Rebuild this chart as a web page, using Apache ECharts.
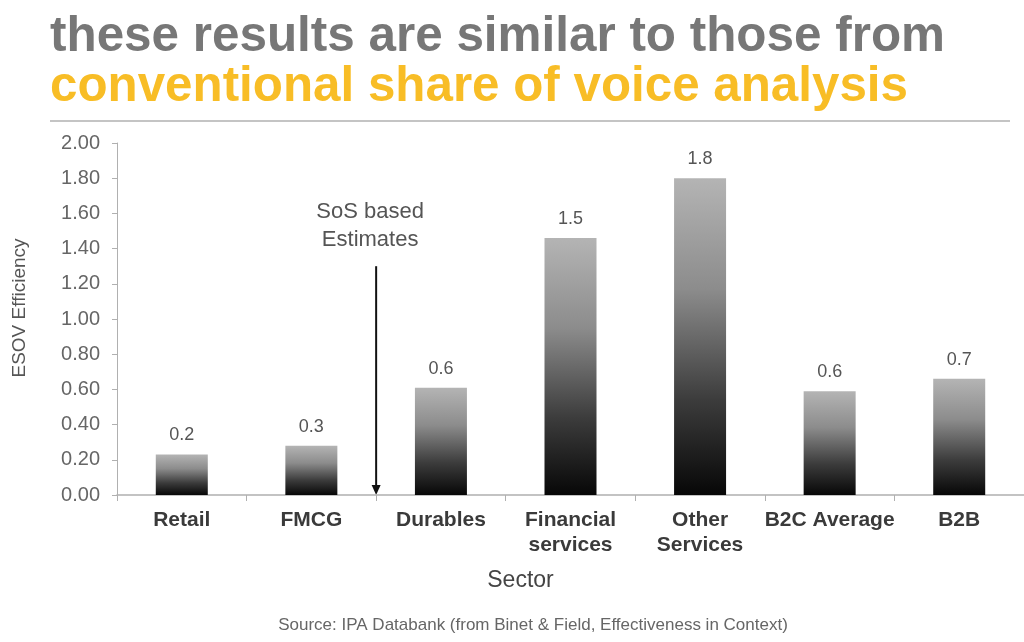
<!DOCTYPE html>
<html>
<head>
<meta charset="utf-8">
<script src="https://cdn.jsdelivr.net/npm/echarts@6/dist/echarts.min.js"></script>
<style>
html,body{margin:0;padding:0;background:#fff;}
#chart{width:1024px;height:642px;}
</style>
</head>
<body>
<div id="chart"></div>
<script>
// ---- data ----
const categories = ['Retail', 'FMCG', 'Durables', 'Financial\nservices', 'Other\nServices', 'B2C Average', 'B2B'];
const efficiency = [0.23, 0.28, 0.61, 1.46, 1.80, 0.59, 0.66];
const yTicks = { min: 0, max: 2, interval: 0.2 };
const titleLine1 = 'these results are similar to those from';
const titleLine2 = 'conventional share of voice analysis';
const annotationText = 'SoS based\nEstimates';
const sourceText = 'Source: IPA Databank (from Binet & Field, Effectiveness in Context)';
const xName = 'Sector';
const yName = 'ESOV Efficiency';

const FONT = '"Liberation Sans", Arial, Helvetica, sans-serif';

function measure(text, font) {
  const c = document.createElement('canvas').getContext('2d');
  c.font = font;
  return c.measureText(text).width;
}

const chart = echarts.init(document.getElementById('chart'));

const option = {
  backgroundColor: '#ffffff',
  animation: false,
  grid: { left: 117, right: -7, top: 143, bottom: 147, containLabel: false },
  xAxis: {
    type: 'category',
    data: categories,
    name: xName,
    nameLocation: 'middle',
    nameGap: 74,
    nameTextStyle: { fontFamily: FONT, fontSize: 23, color: '#444', padding: [0, 100, 0, 0] },
    axisLine: { lineStyle: { color: '#b0b0b0', width: 1.5 } },
    axisTick: { show: true, length: 6, lineStyle: { color: '#b0b0b0' } },
    axisLabel: { fontFamily: FONT, fontWeight: 'bold', fontSize: 21, color: '#3a3a3a', margin: 13, lineHeight: 25, interval: 0 }
  },
  yAxis: {
    type: 'value',
    min: yTicks.min, max: yTicks.max, interval: yTicks.interval,
    name: yName,
    nameLocation: 'middle',
    nameGap: 88,
    nameRotate: 90,
    nameTextStyle: { fontFamily: FONT, fontSize: 19, color: '#555', padding: [0, 0, 0, 22] },
    axisLine: { show: true, lineStyle: { color: '#b0b0b0', width: 1 } },
    axisTick: { show: true, length: 5, lineStyle: { color: '#b0b0b0' } },
    splitLine: { show: false },
    axisLabel: { fontFamily: FONT, fontSize: 20, color: '#666', margin: 17, formatter: v => v.toFixed(2) }
  },
  series: [{
    type: 'bar',
    data: efficiency,
    barWidth: 52,
    itemStyle: {
      color: new echarts.graphic.LinearGradient(0, 0, 0, 1, [
        { offset: 0, color: '#b4b4b4' },
        { offset: 0.35, color: '#8c8c8c' },
        { offset: 0.7, color: '#3c3c3c' },
        { offset: 1, color: '#070707' }
      ])
    },
    label: {
      show: true, position: 'top', distance: 10,
      fontFamily: FONT, fontSize: 18, color: '#555',
      formatter: p => p.value.toFixed(1)
    }
  }]
};
chart.setOption(option);

// ---- title, rule, annotation, source ----
const tFont = 'bold 50px ' + FONT;
const s1 = 895 / measure(titleLine1, tFont);
const s2 = 858 / measure(titleLine2, tFont);

const xA = (chart.convertToPixel({ xAxisIndex: 0 }, categories[1]) + chart.convertToPixel({ xAxisIndex: 0 }, categories[2])) / 2;
const yTop = chart.convertToPixel({ yAxisIndex: 0 }, 1.3);
const yBot = chart.convertToPixel({ yAxisIndex: 0 }, 0);

chart.setOption({
  graphic: [
    { type: 'text', x: 50, y: 12, scaleX: s1, style: { text: titleLine1, font: tFont, fill: '#777777', verticalAlign: 'top' } },
    { type: 'text', x: 50, y: 62, scaleX: s2, style: { text: titleLine2, font: tFont, fill: '#f8bd26', verticalAlign: 'top' } },
    { type: 'line', shape: { x1: 50, y1: 121, x2: 1010, y2: 121 }, style: { stroke: '#c4c4c4', lineWidth: 2 } },
    { type: 'line', shape: { x1: xA, y1: yTop, x2: xA, y2: yBot - 8 }, style: { stroke: '#111', lineWidth: 2 } },
    { type: 'polygon', shape: { points: [[xA - 4.5, yBot - 10], [xA + 4.5, yBot - 10], [xA, yBot]] }, style: { fill: '#111' } },
    { type: 'text', x: xA - 6, y: 226, style: { text: annotationText, font: '22px ' + FONT, fill: '#555', align: 'center', verticalAlign: 'middle', lineHeight: 28 } },
    { type: 'text', x: 533, y: 625, style: { text: sourceText, font: '17px ' + FONT, fill: '#666', align: 'center', verticalAlign: 'middle' } }
  ]
});
</script>
</body>
</html>
